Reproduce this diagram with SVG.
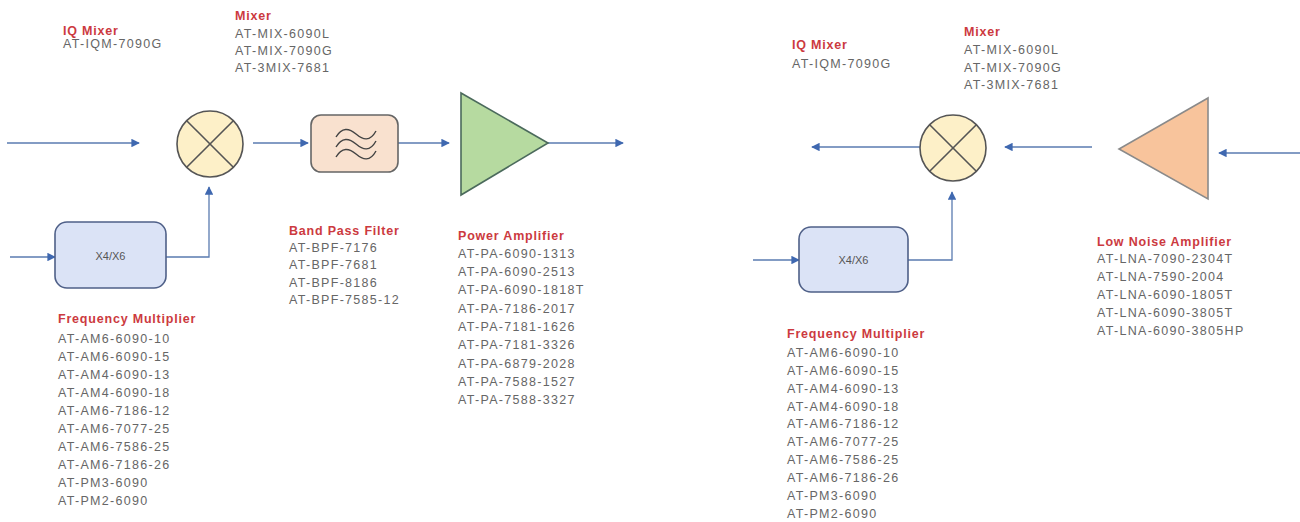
<svg xmlns="http://www.w3.org/2000/svg" width="1300" height="522" viewBox="0 0 1300 522">
<defs>
<marker id="ah" viewBox="0 0 10 10" refX="9" refY="5" markerWidth="8.5" markerHeight="8.5" markerUnits="userSpaceOnUse" orient="auto">
<path d="M0,0 L10,5 L0,10 Z" fill="#3f68b0"/>
</marker>
<style>
.ln{fill:none;stroke:#5a7bb0;stroke-width:1.3}
.t{font-family:"Liberation Sans",Arial,sans-serif;font-size:12.5px;letter-spacing:1.3px;fill:#666}
.h{font-family:"Liberation Sans",Arial,sans-serif;font-size:12.5px;letter-spacing:0.8px;font-weight:bold;fill:#cc3a40}
.mix{fill:#fdf0c8;stroke:#555;stroke-width:1.6}
.box{fill:#dbe3f6;stroke:#4f6088;stroke-width:1.6}
.wave{fill:none;stroke:#444;stroke-width:1.4}
</style>
</defs>

<g id="connectors">
<line class="ln" x1="7" y1="143" x2="139" y2="143" marker-end="url(#ah)"/>
<line class="ln" x1="253" y1="143" x2="308" y2="143" marker-end="url(#ah)"/>
<line class="ln" x1="398" y1="143" x2="449" y2="143" marker-end="url(#ah)"/>
<line class="ln" x1="548" y1="143" x2="623" y2="143" marker-end="url(#ah)"/>
<line class="ln" x1="10" y1="257" x2="55" y2="257" marker-end="url(#ah)"/>
<polyline class="ln" points="166,257 209,257 209,187" marker-end="url(#ah)"/>
<line class="ln" x1="920" y1="147" x2="812" y2="147" marker-end="url(#ah)"/>
<line class="ln" x1="1092" y1="147" x2="1005" y2="147" marker-end="url(#ah)"/>
<line class="ln" x1="1300" y1="153" x2="1219" y2="153" marker-end="url(#ah)"/>
<line class="ln" x1="753" y1="260" x2="799" y2="260" marker-end="url(#ah)"/>
<polyline class="ln" points="908,260 952,260 952,192" marker-end="url(#ah)"/>
</g>

<g id="iq-mixer-left">
<text class="h" x="63" y="35">IQ Mixer</text>
<text class="t" x="63" y="48">AT-IQM-7090G</text>
</g>

<g id="mixer-left">
<circle class="mix" cx="210" cy="144" r="33"/>
<line x1="186.7" y1="120.7" x2="233.3" y2="167.3" stroke="#555" stroke-width="1.6"/>
<line x1="233.3" y1="120.7" x2="186.7" y2="167.3" stroke="#555" stroke-width="1.6"/>
<text class="h" x="235" y="19.5">Mixer</text>
<text class="t" x="235" y="37.5">AT-MIX-6090L</text>
<text class="t" x="235" y="54.5">AT-MIX-7090G</text>
<text class="t" x="235" y="71.5">AT-3MIX-7681</text>
</g>

<g id="bpf">
<rect x="311" y="115" width="87" height="57" rx="10" fill="#f9e1cf" stroke="#666" stroke-width="1.6"/>
<path class="wave" d="M336,137 C342,127 349,128 356,134 S370,142 376,131"/>
<path class="wave" d="M336,147 C342,137 349,138 356,144 S370,152 376,141"/>
<path class="wave" d="M336,157 C342,147 349,148 356,154 S370,162 376,151"/>
<text class="h" x="289" y="234.5">Band Pass Filter</text>
<text class="t" x="289" y="251.5">AT-BPF-7176</text>
<text class="t" x="289" y="269">AT-BPF-7681</text>
<text class="t" x="289" y="286.5">AT-BPF-8186</text>
<text class="t" x="289" y="304">AT-BPF-7585-12</text>
</g>

<g id="power-amplifier">
<polygon points="461,93 548,143 461,195" fill="#b6daa0" stroke="#4b6a5c" stroke-width="1.6"/>
<text class="h" x="458" y="239.5">Power Amplifier</text>
<text class="t" x="458" y="257.5">AT-PA-6090-1313</text>
<text class="t" x="458" y="276">AT-PA-6090-2513</text>
<text class="t" x="458" y="294">AT-PA-6090-1818T</text>
<text class="t" x="458" y="312.5">AT-PA-7186-2017</text>
<text class="t" x="458" y="331">AT-PA-7181-1626</text>
<text class="t" x="458" y="349">AT-PA-7181-3326</text>
<text class="t" x="458" y="367.5">AT-PA-6879-2028</text>
<text class="t" x="458" y="386">AT-PA-7588-1527</text>
<text class="t" x="458" y="404">AT-PA-7588-3327</text>
</g>

<g id="freq-mult-left">
<rect class="box" x="55" y="222" width="111" height="66" rx="12"/>
<text x="110.5" y="259.5" text-anchor="middle" font-family="Liberation Sans, Arial, sans-serif" font-size="11" fill="#555">X4/X6</text>
<text class="h" x="58" y="322.5">Frequency Multiplier</text>
<text class="t" x="58" y="342.5">AT-AM6-6090-10</text>
<text class="t" x="58" y="360.5">AT-AM6-6090-15</text>
<text class="t" x="58" y="378.5">AT-AM4-6090-13</text>
<text class="t" x="58" y="396.5">AT-AM4-6090-18</text>
<text class="t" x="58" y="414.5">AT-AM6-7186-12</text>
<text class="t" x="58" y="432.5">AT-AM6-7077-25</text>
<text class="t" x="58" y="450.5">AT-AM6-7586-25</text>
<text class="t" x="58" y="468.5">AT-AM6-7186-26</text>
<text class="t" x="58" y="486.5">AT-PM3-6090</text>
<text class="t" x="58" y="504.5">AT-PM2-6090</text>
</g>

<g id="iq-mixer-right">
<text class="h" x="792" y="48.5">IQ Mixer</text>
<text class="t" x="792" y="68">AT-IQM-7090G</text>
</g>

<g id="mixer-right">
<circle class="mix" cx="953" cy="148" r="33"/>
<line x1="929.7" y1="124.7" x2="976.3" y2="171.3" stroke="#555" stroke-width="1.6"/>
<line x1="976.3" y1="124.7" x2="929.7" y2="171.3" stroke="#555" stroke-width="1.6"/>
<text class="h" x="964" y="35.5">Mixer</text>
<text class="t" x="964" y="54">AT-MIX-6090L</text>
<text class="t" x="964" y="71.5">AT-MIX-7090G</text>
<text class="t" x="964" y="89">AT-3MIX-7681</text>
</g>

<g id="lna">
<polygon points="1208,98 1119,149 1208,199" fill="#f8c49c" stroke="#8a8a8a" stroke-width="1.6"/>
<text class="h" x="1097" y="245.5">Low Noise Amplifier</text>
<text class="t" x="1097" y="262.5">AT-LNA-7090-2304T</text>
<text class="t" x="1097" y="281">AT-LNA-7590-2004</text>
<text class="t" x="1097" y="299">AT-LNA-6090-1805T</text>
<text class="t" x="1097" y="317">AT-LNA-6090-3805T</text>
<text class="t" x="1097" y="334.5">AT-LNA-6090-3805HP</text>
</g>

<g id="freq-mult-right">
<rect class="box" x="799" y="227" width="109" height="65" rx="12"/>
<text x="853.5" y="263.5" text-anchor="middle" font-family="Liberation Sans, Arial, sans-serif" font-size="11" fill="#555">X4/X6</text>
<text class="h" x="787" y="337.5">Frequency Multiplier</text>
<text class="t" x="787" y="356.5">AT-AM6-6090-10</text>
<text class="t" x="787" y="374.5">AT-AM6-6090-15</text>
<text class="t" x="787" y="392.5">AT-AM4-6090-13</text>
<text class="t" x="787" y="410.5">AT-AM4-6090-18</text>
<text class="t" x="787" y="428">AT-AM6-7186-12</text>
<text class="t" x="787" y="446">AT-AM6-7077-25</text>
<text class="t" x="787" y="463.5">AT-AM6-7586-25</text>
<text class="t" x="787" y="481.5">AT-AM6-7186-26</text>
<text class="t" x="787" y="500">AT-PM3-6090</text>
<text class="t" x="787" y="518">AT-PM2-6090</text>
</g>
</svg>
